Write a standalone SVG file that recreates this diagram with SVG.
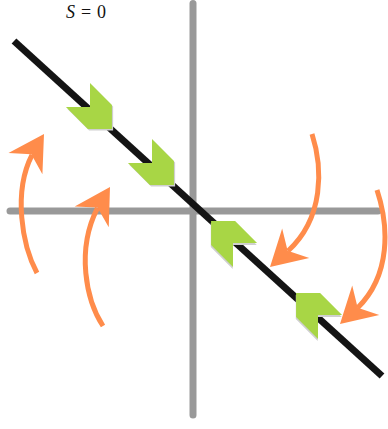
<svg xmlns="http://www.w3.org/2000/svg" width="388" height="429" viewBox="0 0 388 429">
<style>
.axis{stroke:#999;stroke-width:7;stroke-linecap:round;fill:none}
.sline{stroke:#141414;stroke-width:7;fill:none}
.chev{fill:#a8d645}
.shadow{fill:#cfcfcf}
.flow{stroke:#ff8c4b;stroke-width:5;fill:none}
.head{fill:#ff8c4b}
.lbl{font-family:"Liberation Serif","Times New Roman",serif;font-size:18px;fill:#111}
</style>
<defs>
<path id="chevron" d="M0,0 L-17,-17 L14,-17 L31,0 L14,17 L-17,17 Z"/>
<path id="ahead" d="M0,0 L-35,-20 L-24,0 L-35,20 Z"/>
</defs>
<rect width="388" height="429" fill="#fff"/>
<g id="axes">
<line class="axis" x1="193" y1="3.5" x2="193" y2="415"/>
<line class="axis" x1="10" y1="211" x2="378" y2="211"/>
</g>
<g id="label">
<text class="lbl" y="18"><tspan x="66" font-style="italic">S</tspan><tspan x="81">=</tspan><tspan x="97">0</tspan></text>
</g>
<g id="slow-manifold">
<line class="sline" x1="14" y1="41" x2="382" y2="376"/>
</g>
<g id="chevron1" transform="translate(90,107) rotate(45)">
<use href="#chevron" class="shadow" transform="translate(2,0.3)"/>
<use href="#chevron" class="chev"/>
</g>
<g id="chevron2" transform="translate(152,163) rotate(45)">
<use href="#chevron" class="shadow" transform="translate(2,0.3)"/>
<use href="#chevron" class="chev"/>
</g>
<g id="chevron3" transform="translate(233,243) rotate(-135)">
<use href="#chevron" class="shadow" transform="translate(-1.2,-1.6)"/>
<use href="#chevron" class="chev"/>
</g>
<g id="chevron4" transform="translate(318,315) rotate(-135)">
<use href="#chevron" class="shadow" transform="translate(-1.2,-1.6)"/>
<use href="#chevron" class="chev"/>
</g>
<g id="connectors">
<g id="flow1">
<path class="flow" d="M37,273 C22,245 13,192 32,155"/>
<use href="#ahead" class="head" transform="translate(44,134) rotate(-58)"/>
</g>
<g id="flow2">
<path class="flow" d="M103,326 C86,300 76,250 97.5,208"/>
<use href="#ahead" class="head" transform="translate(110,187) rotate(-58.5)"/>
</g>
<g id="flow3">
<path class="flow" d="M312,134 C323,168 324,218 288,251"/>
<use href="#ahead" class="head" transform="translate(270,267) rotate(137.3)"/>
</g>
<g id="flow4">
<path class="flow" d="M377,190 C389,226 391,275 357.5,308"/>
<use href="#ahead" class="head" transform="translate(340,324) rotate(137.4)"/>
</g>
</g>
</svg>
